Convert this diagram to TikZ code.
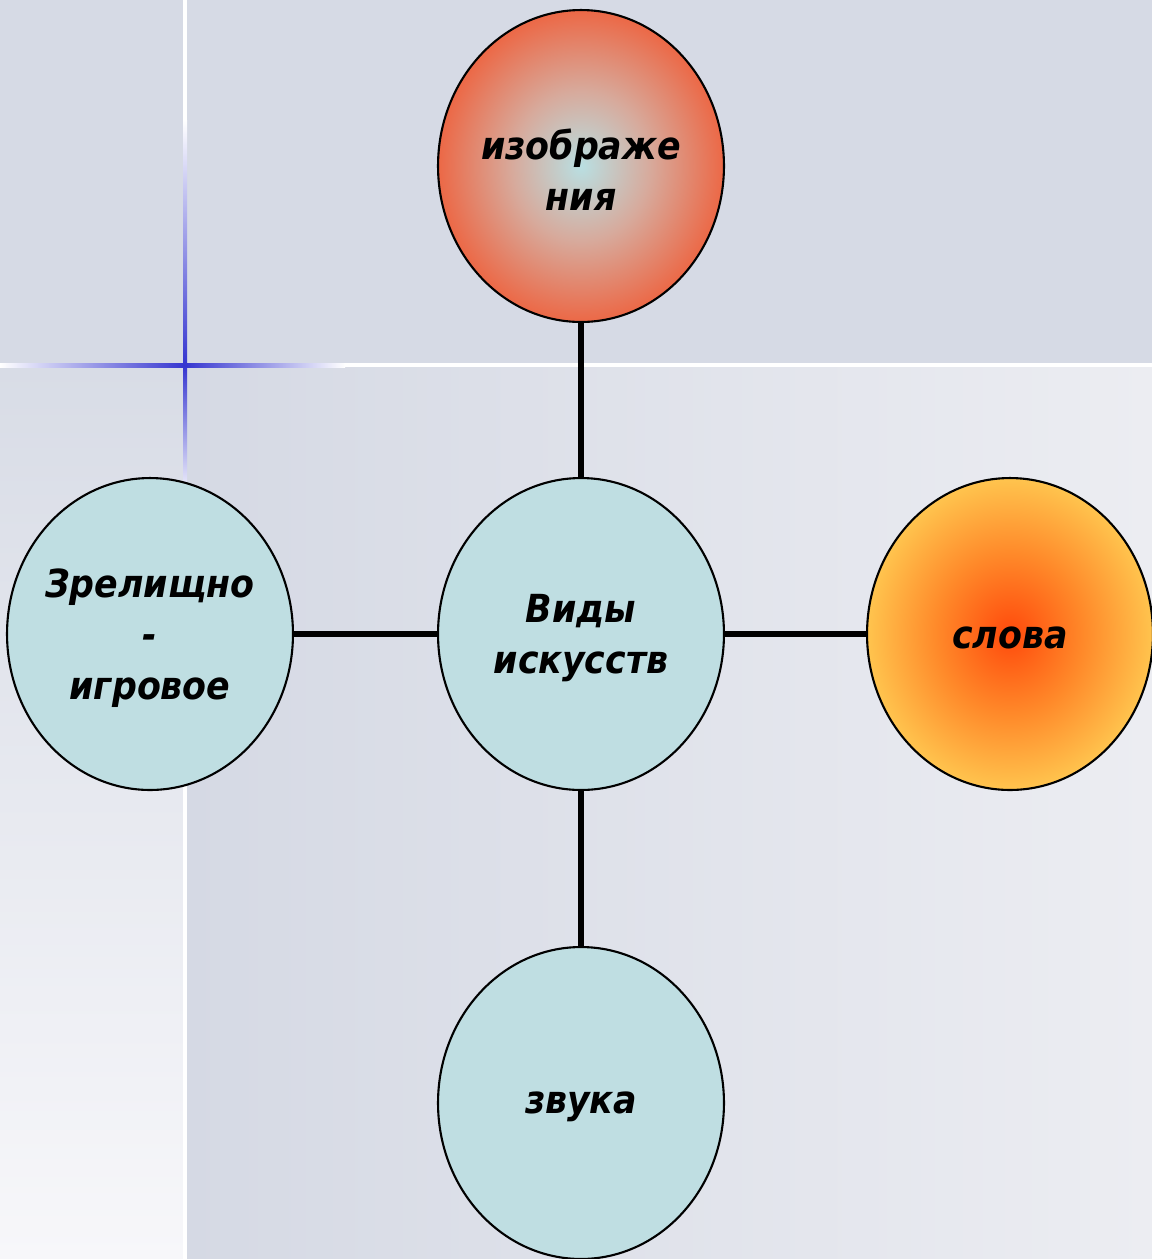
\documentclass[tikz,border=0pt]{standalone}
\usepackage{fontspec}
\usetikzlibrary{shapes.geometric}
\IfFontExistsTF{DejaVu Sans Condensed}{\newfontfamily\lblfont{DejaVu Sans Condensed}}{\newfontfamily\lblfont{DejaVu Sans}}
\definecolor{bandbg}{HTML}{D6DAE5}
\definecolor{mainleft}{HTML}{D5D9E4}
\definecolor{mainright}{HTML}{ECEDF2}
\definecolor{striptop}{HTML}{D8DCE6}
\definecolor{stripbot}{HTML}{F7F7FA}
\definecolor{sparkblue}{HTML}{3535D0}
\definecolor{sparkgray}{HTML}{BEBEC4}
\definecolor{paleblue}{HTML}{BFDEE2}
\definecolor{izoin}{HTML}{B9DFE2}
\definecolor{izomid}{HTML}{D7AA9C}
\definecolor{izoout}{HTML}{EC6846}
\definecolor{slovin}{HTML}{FF4A0C}
\definecolor{slovmid}{HTML}{FF8A2A}
\definecolor{slovout}{HTML}{FFC44E}
\pgfdeclareradialshading{izoshade}{\pgfpointorigin}{color(0bp)=(izoin); color(12bp)=(izomid); color(25bp)=(izoout); color(50bp)=(izoout)}
\pgfdeclareradialshading{slovshade}{\pgfpointorigin}{color(0bp)=(slovin); color(13bp)=(slovmid); color(25bp)=(slovout); color(50bp)=(slovout)}
\tikzset{
  lbl/.style={align=center, inner sep=0pt, yshift=-0.08cm,
    font=\lblfont\bfseries\itshape\fontsize{22}{29}\selectfont},
  bubble/.style={ellipse, draw=black, line width=1.2pt, inner sep=0pt,
    minimum width=5.72cm, minimum height=6.24cm,
    label={[lbl]center:{#1}}},
  plain/.style={bubble={#1}, fill=paleblue},
  spoke/.style={line width=3.3pt, black}
}
\begin{document}
\begin{tikzpicture}[x=0.02cm, y=-0.02cm]
  % background
  \useasboundingbox (0,0) rectangle (1152,1259);
  \fill[bandbg] (0,0) rectangle (1152,365);
  \shade[left color=mainleft, right color=mainright] (185,365) rectangle (1152,1259);
  \shade[top color=striptop, bottom color=stripbot] (0,365) rectangle (185,1259);
  \draw[white, line width=2.5pt] (0,365) -- (1152,365);
  \draw[white, line width=2pt] (185,0) -- (185,1259);
  % sparkle
  \shade[left color=white, middle color=sparkgray, right color=sparkblue] (0,363) rectangle (185,367);
  \shade[left color=sparkblue, middle color=sparkgray, right color=white] (185,363) rectangle (345,367);
  \shade[top color=white, middle color=sparkgray, bottom color=sparkblue] (183,120) rectangle (187,365);
  \shade[top color=sparkblue, middle color=sparkgray, bottom color=white] (183,365) rectangle (187,500);
  % circles
  \draw
    (581,634) node[plain={Виды\\искусств}] (vidy){}
    (581,166) node[bubble={изображе\\ния}, shading=izoshade] (izo){}
    (1010,634) node[bubble={слова}, shading=slovshade] (slov){}
    (581,1103) node[plain={звука}] (zvuk){}
    (150,634) node[plain={Зрелищно\\-\\игровое}] (zrel){};
  \begin{scope}[spoke]
    \draw (vidy) to (izo);
    \draw (vidy) to (slov);
    \draw (vidy) to (zvuk);
    \draw (vidy) to (zrel);
  \end{scope}
\end{tikzpicture}
\end{document}
